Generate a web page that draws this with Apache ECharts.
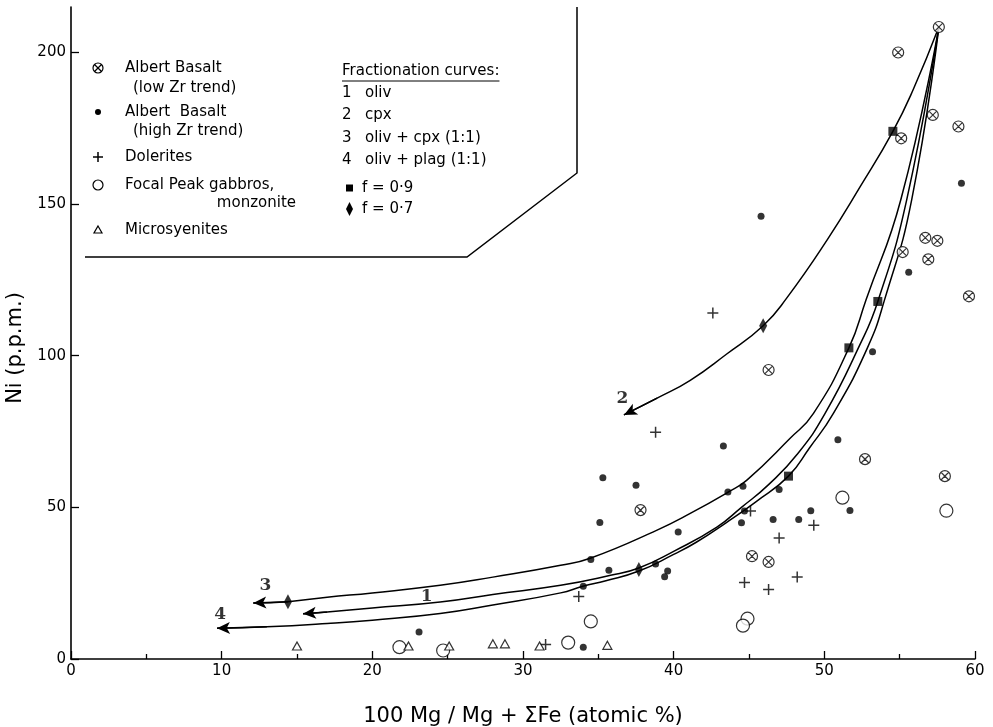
<!DOCTYPE html>
<html><head><meta charset="utf-8">
<script src="https://cdn.jsdelivr.net/npm/echarts@6/dist/echarts.min.js"></script>
<style>html,body{margin:0;padding:0;background:#fff}#c{width:993px;height:727px}</style>
</head><body><div id="c"></div>
<script>
// ---- data ----
const xTicks = [0, 10, 20, 30, 40, 50, 60];
const yTicks = [0, 50, 100, 150, 200];
const lowZr = [[57.6,208.4],[54.9,200.0],[57.2,179.4],[58.9,175.6],[55.1,171.7],[56.7,138.9],[57.5,137.9],[55.2,134.2],[56.9,131.8],[59.6,119.6],[46.3,95.3],[52.7,65.9],[58.0,60.3],[37.8,49.1],[45.2,33.9],[46.3,32.0]];
const highZr = [[45.8,146.0],[59.1,156.9],[55.6,127.5],[53.2,101.3],[50.9,72.3],[43.3,70.2],[35.3,59.8],[37.5,57.3],[43.6,55.1],[44.6,57.0],[47.0,55.9],[35.1,45.0],[40.3,41.9],[44.7,48.8],[44.5,44.9],[46.6,46.0],[48.3,46.0],[49.1,48.9],[51.7,49.0],[34.5,32.8],[35.7,29.3],[34.0,24.0],[38.8,31.3],[39.6,29.0],[39.4,27.1],[34.0,3.9],[23.1,8.9]];
const dolerites = [[42.6,114.1],[38.8,74.8],[45.1,48.8],[49.3,44.1],[47.0,39.9],[44.7,25.2],[46.3,22.9],[48.2,27.0],[33.7,20.6],[31.5,4.8]];
const focal = [[51.2,53.2],[58.1,48.9],[34.5,12.4],[44.9,13.3],[44.6,11.0],[33.0,5.4],[21.8,3.9],[24.7,2.8]];
const micro = [[15.0,4.3],[22.4,4.3],[25.1,4.3],[28.0,5.0],[28.8,5.0],[31.1,4.3],[35.6,4.5]];
const curve1 = [[57.6,208.4],[55.47,151.5],[53.55,117.9],[52.26,102.6],[50.05,81.0],[48.2,67.5],[46.3,57.5],[44.5,50.0],[42.87,43.5],[40.0,35.5],[37.69,30.0],[35.74,27.5],[32.5,24.3],[28,21.3],[24.5,18.8],[20,16.8],[17,15.5],[15.4,14.9]];
const curve2 = [[57.6,208.4],[55.9,187.8],[54.55,174.0],[52.4,155.9],[50.2,138.3],[47.5,119.0],[45.94,109.9],[43.5,100.5],[41.1,91.9],[38.9,86.0],[36.7,80.5]];
const curve3 = [[57.6,208.4],[55.08,151.5],[52.77,118.5],[51.63,102.6],[49.28,81.0],[47.73,72.8],[44.86,59.0],[43.64,55.1],[41.1,48.0],[38.9,42.5],[34.46,33.2],[32.5,30.9],[28,27.0],[24.5,24.3],[20,21.8],[17,20.4],[14.4,18.9],[12.1,18.5]];
const curve4 = [[57.6,208.4],[55.8,151.5],[54.0,118.5],[52.86,102.6],[50.6,81.0],[49.0,69.5],[47.62,60.3],[45.5,52.0],[43.5,45.0],[41.5,38.5],[40.0,34.5],[37.69,29.0],[35.5,25.8],[33.97,24.0],[32.5,21.8],[28,17.8],[24.5,15.0],[20,12.8],[17,11.7],[13,10.6],[9.69,10.1]];
const f09 = [[54.55,174.0],[53.55,117.9],[51.63,102.6],[47.62,60.3]];
const f07 = [[45.94,109.9],[37.69,29.5],[14.4,18.9]];
const curveLabels = [{name:'1', value:[23.6,20.6]},{name:'2', value:[36.6,85.8]},{name:'3', value:[12.9,24.3]},{name:'4', value:[9.9,14.6]}];
const legendLeft = [
  ['otimes','Albert Basalt','(low Zr trend)'],
  ['dot','Albert  Basalt','(high Zr trend)'],
  ['plus','Dolerites',null],
  ['circle','Focal Peak gabbros,','monzonite'],
  ['tri','Microsyenites',null]
];
const legendRight = [['1','oliv'],['2','cpx'],['3','oliv + cpx (1:1)'],['4','oliv + plag (1:1)']];
const legendMarks = [['square','f = 0·9'],['diamond','f = 0·7']];

// ---- chart ----
const FONT = 'DejaVu Sans';
const chart = echarts.init(document.getElementById('c'), null, {renderer:'canvas'});
const OTIMES = 'path://M10 0A10 10 0 1 1 -10 0A10 10 0 1 1 10 0ZM-7.07 -7.07L7.07 7.07M7.07 -7.07L-7.07 7.07';
const PLUS = 'path://M-5 0L5 0M0 -5L0 5';

function curveSeries(data){
  const n = data.length;
  return {
    type:'line', data:data, showSymbol:false, symbol:'none', smooth:0.5,
    lineStyle:{color:'#000', width:1.5}, z:2, silent:true,
    markLine:{silent:true, symbol:['none','arrow'], symbolSize:[9,13],
      lineStyle:{color:'#000', width:1.5, type:'solid'}, label:{show:false},
      data:[[{coord:data[n-2]},{coord:data[n-1]}]]}
  };
}

const ctx = document.createElement('canvas').getContext('2d');
function tw(t, size){ ctx.font = size+'px "'+FONT+'"'; return ctx.measureText(t).width; }

const g = [];
g.push({type:'polyline', shape:{points:[[85,257],[467,257],[577,173],[577,7]]}, style:{stroke:'#000', lineWidth:1.5, fill:null}, z:10});
const LS = 15;
const rowY = [[68,88],[112,131],[157],[185,203],[230]];
legendLeft.forEach((it, i) => {
  const y = rowY[i][0]; const sx = 98;
  if (it[0]==='otimes'){
    g.push({type:'circle', shape:{cx:sx, cy:y, r:5}, style:{stroke:'#000', fill:'#fff', lineWidth:1.2}, z:10});
    g.push({type:'line', shape:{x1:sx-3.5,y1:y-3.5,x2:sx+3.5,y2:y+3.5}, style:{stroke:'#000', lineWidth:1.2}, z:10});
    g.push({type:'line', shape:{x1:sx+3.5,y1:y-3.5,x2:sx-3.5,y2:y+3.5}, style:{stroke:'#000', lineWidth:1.2}, z:10});
  } else if (it[0]==='dot'){
    g.push({type:'circle', shape:{cx:sx, cy:y, r:3}, style:{fill:'#000'}, z:10});
  } else if (it[0]==='plus'){
    g.push({type:'line', shape:{x1:sx-5,y1:y,x2:sx+5,y2:y}, style:{stroke:'#000', lineWidth:1.5}, z:10});
    g.push({type:'line', shape:{x1:sx,y1:y-5,x2:sx,y2:y+5}, style:{stroke:'#000', lineWidth:1.5}, z:10});
  } else if (it[0]==='circle'){
    g.push({type:'circle', shape:{cx:sx, cy:y, r:5}, style:{stroke:'#000', fill:'#fff', lineWidth:1.2}, z:10});
  } else if (it[0]==='tri'){
    g.push({type:'polygon', shape:{points:[[sx,y-4],[sx+4,y+3],[sx-4,y+3]]}, style:{stroke:'#000', fill:'#fff', lineWidth:1.2}, z:10});
  }
  g.push({type:'text', x:125, y:y, style:{text:it[1], font:LS+'px "'+FONT+'"', fill:'#000', verticalAlign:'middle'}, z:10});
  if (it[2]){
    if (it[0]==='circle'){
      g.push({type:'text', x:296, y:rowY[i][1], style:{text:it[2], font:LS+'px "'+FONT+'"', fill:'#000', verticalAlign:'middle', align:'right'}, z:10});
    } else {
      g.push({type:'text', x:133, y:rowY[i][1], style:{text:it[2], font:LS+'px "'+FONT+'"', fill:'#000', verticalAlign:'middle'}, z:10});
    }
  }
});
const fc = 'Fractionation curves:';
g.push({type:'text', x:342, y:71, style:{text:fc, font:LS+'px "'+FONT+'"', fill:'#000', verticalAlign:'middle'}, z:10});
g.push({type:'line', shape:{x1:342,y1:81,x2:342+tw(fc,LS),y2:81}, style:{stroke:'#000', lineWidth:1}, z:10});
const ry = [93,115,138,160];
legendRight.forEach((it,i) => {
  g.push({type:'text', x:342, y:ry[i], style:{text:it[0], font:LS+'px "'+FONT+'"', fill:'#000', verticalAlign:'middle'}, z:10});
  g.push({type:'text', x:365, y:ry[i], style:{text:it[1], font:LS+'px "'+FONT+'"', fill:'#000', verticalAlign:'middle'}, z:10});
});
const my = [188,209];
legendMarks.forEach((it,i) => {
  const y = my[i];
  if (it[0]==='square') g.push({type:'rect', shape:{x:346, y:y-3.5, width:7, height:7}, style:{fill:'#000'}, z:10});
  else g.push({type:'polygon', shape:{points:[[349.5,y-7],[353,y],[349.5,y+7],[346,y]]}, style:{fill:'#000'}, z:10});
  g.push({type:'text', x:362, y:y, style:{text:it[1], font:LS+'px "'+FONT+'"', fill:'#000', verticalAlign:'middle'}, z:10});
});

const option = {
  animation:false,
  backgroundColor:'#fff',
  grid:{left:71, right:18, top:7, bottom:68, containLabel:false, outerBoundsMode:'none'},
  xAxis:{type:'value', min:0, max:60, interval:10,
    name:'100 Mg / Mg + ΣFe (atomic %)', nameLocation:'middle', nameGap:47,
    nameTextStyle:{fontFamily:FONT, fontSize:21, color:'#000'},
    axisLine:{lineStyle:{color:'#000', width:1.6}},
    axisTick:{inside:true, length:8, lineStyle:{color:'#000', width:1.3}},
    minorTick:{show:true, splitNumber:2, length:5, lineStyle:{color:'#000', width:1.3}},
    splitLine:{show:false},
    axisLabel:{color:'#000', fontFamily:FONT, fontSize:15, margin:5, customValues:xTicks}
  },
  yAxis:{type:'value', min:0, max:215,
    name:'Ni (p.p.m.)', nameLocation:'middle', nameGap:44,
    nameTextStyle:{fontFamily:FONT, fontSize:21, color:'#000', padding:[0,30,0,0]},
    axisLine:{show:true, lineStyle:{color:'#000', width:1.6}},
    axisTick:{show:true, inside:true, length:8, customValues:yTicks, lineStyle:{color:'#000', width:1.3}},
    splitLine:{show:false},
    axisLabel:{color:'#000', fontFamily:FONT, fontSize:15, margin:5, customValues:yTicks}
  },
  graphic:g,
  series:[
    curveSeries(curve1), curveSeries(curve2), curveSeries(curve3), curveSeries(curve4),
    {type:'scatter', data:lowZr, symbol:OTIMES, symbolSize:11, z:5,
      itemStyle:{color:'#fff', borderColor:'#000', borderWidth:1.2}},
    {type:'scatter', data:highZr, symbol:'circle', symbolSize:7, z:5, itemStyle:{color:'#000'}},
    {type:'scatter', data:dolerites, symbol:PLUS, symbolSize:11, z:5,
      itemStyle:{color:'none', borderColor:'#000', borderWidth:1.5}},
    {type:'scatter', data:focal, symbol:'circle', symbolSize:13, z:5,
      itemStyle:{color:'#fff', borderColor:'#000', borderWidth:1.2}},
    {type:'scatter', data:micro, symbol:'triangle', symbolSize:[9,8], z:5,
      itemStyle:{color:'#fff', borderColor:'#000', borderWidth:1.2}},
    {type:'scatter', data:f09, symbol:'rect', symbolSize:9, z:6, itemStyle:{color:'#000'}},
    {type:'scatter', data:f07, symbol:'diamond', symbolSize:[8,15], z:6, itemStyle:{color:'#000'}},
    {type:'scatter', data:curveLabels, symbolSize:0, z:6,
      label:{show:true, position:'inside', formatter:'{b}', color:'#000',
        fontFamily:'DejaVu Serif', fontWeight:'bold', fontSize:17}}
  ]
};
chart.setOption(option);
</script>
</body></html>
